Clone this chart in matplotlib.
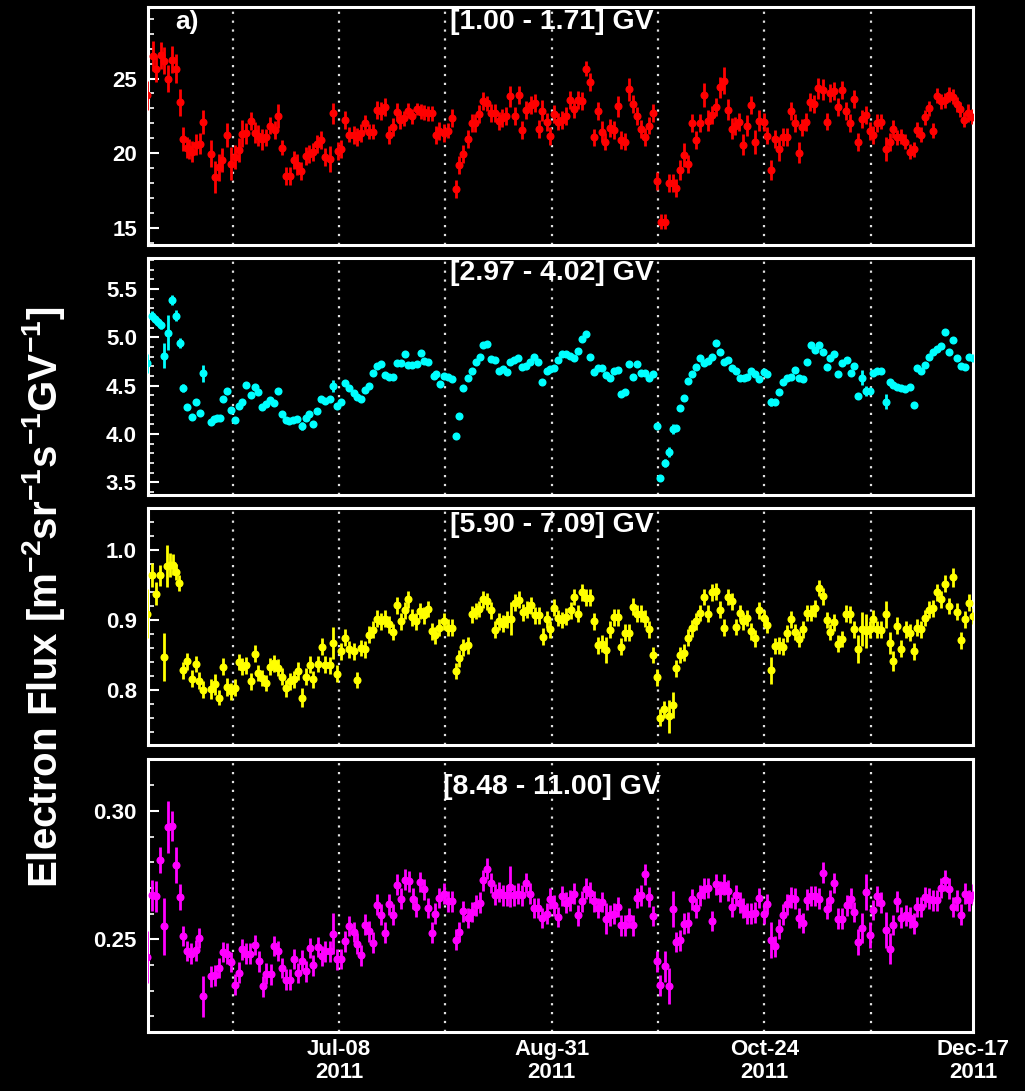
import numpy as np
import matplotlib
matplotlib.use('Agg')
import matplotlib.pyplot as plt
from matplotlib.ticker import MultipleLocator, FixedLocator
import pandas as pd

plt.rcParams['font.family'] = ['Liberation Sans', 'DejaVu Sans']
plt.rcParams['font.weight'] = 'bold'
plt.rcParams['mathtext.fontset'] = 'custom'
plt.rcParams['mathtext.rm'] = 'Liberation Sans:bold'
plt.rcParams['mathtext.bf'] = 'Liberation Sans:bold'
plt.rcParams['mathtext.default'] = 'bf'

# ---------------- data (x = day of year 2011) ----------------
days_1 = [140.3, 141.8, 142.5, 143.7, 144.5, 145.5, 146.6, 147.6, 148.6, 149.4,
          150.3, 151.0, 151.7, 152.7, 153.7, 154.5, 156.5, 157.6, 158.6, 159.4,
          160.6, 161.6, 162.6, 163.6, 164.4, 165.4, 166.6, 167.7, 168.5, 169.4,
          170.5, 171.6, 172.7, 173.6, 174.6, 175.5, 176.6, 177.5, 178.4, 179.4,
          180.5, 181.5, 182.5, 183.3, 184.4, 185.5, 186.7, 187.6, 188.8, 189.6,
          190.6, 191.6, 192.7, 193.7, 194.5, 195.7, 196.7, 197.6, 198.6, 199.6,
          200.6, 201.6, 202.7, 203.7, 204.5, 205.5, 206.6, 207.6, 208.8, 209.8,
          210.6,
          211.5, 212.6, 213.7, 214.5, 215.6, 216.6, 217.6, 218.7, 219.6, 220.6,
          221.7, 222.7, 223.6, 224.5, 225.6, 226.6, 227.6, 228.6, 229.6, 230.5,
          231.5, 232.5, 233.6, 234.6, 235.6, 236.6, 237.7, 238.7, 239.7, 240.6,
          241.7, 242.7, 243.7, 244.5, 245.6, 246.7, 247.7, 248.6, 249.6, 250.7,
          251.7, 252.7, 253.7, 254.7, 255.7, 256.6, 257.7, 258.8, 259.8, 260.6,
          261.7, 262.7, 263.7, 264.7, 265.7, 266.7, 267.8, 268.8, 269.8, 270.7,
          271.7, 272.8, 273.8, 274.7, 275.7, 276.7, 277.7, 278.7, 279.7, 280.6,
          281.7,
          282.7, 283.7, 284.7, 285.7, 286.8, 287.8, 288.8, 289.6, 290.6, 291.7,
          292.7, 293.7, 294.7, 295.7, 296.8, 297.8, 298.8, 299.8, 300.7, 301.8,
          302.8, 303.7, 304.8, 305.7, 306.7, 307.7, 308.7, 309.7, 310.7, 311.8,
          312.8, 313.8, 314.8, 315.8, 316.8, 317.8, 318.8, 319.8, 320.8, 321.8,
          322.8, 323.9, 324.7, 325.7, 326.7, 327.9, 328.8, 329.8, 330.8, 331.8,
          332.8, 333.9, 334.9, 335.9, 336.8, 337.8, 338.8, 339.8, 340.8, 341.8,
          342.9, 343.9, 344.9, 345.9, 346.8, 347.8, 348.8, 349.8]
flux_1 = [23.87, 26.50, 25.67, 26.56, 26.20, 25.00, 26.27, 25.67, 23.40, 20.93,
          20.37, 20.28, 20.10, 20.55, 20.64, 22.06, 19.95, 18.40, 19.05, 19.54,
          21.23, 19.30, 19.77, 20.22, 21.29, 21.34, 22.15, 21.38, 21.16, 20.93,
          21.05, 21.85, 21.56, 22.48, 20.37, 18.45, 18.45, 19.52, 19.21, 18.83,
          19.81, 19.93, 20.10, 20.64, 20.89, 19.72, 19.61, 22.68, 20.15, 20.28,
          22.24, 21.23, 21.23, 21.07, 21.34, 21.99, 21.45, 21.45, 22.91, 22.84,
          23.09, 21.23, 21.74, 22.73, 22.21, 22.35, 22.84, 22.48, 22.93, 22.79,
          22.75,
          22.68, 22.68, 21.23, 21.49, 21.38, 21.49, 22.35, 17.57, 19.21, 19.93,
          20.96, 22.03, 22.03, 22.62, 23.47, 23.33, 22.68, 22.68, 22.17, 22.35,
          22.50, 23.80, 22.50, 23.87, 21.58, 22.91, 23.20, 23.36, 21.63, 22.84,
          22.08, 21.16, 22.62, 22.12, 22.23, 22.50, 23.54, 22.97, 23.58, 23.51,
          25.67, 24.77, 21.05, 22.80, 21.45, 20.78, 21.67, 21.54, 23.13, 20.89,
          20.78, 24.27, 23.29, 22.50, 21.63, 21.11, 21.85, 22.68, 18.15, 15.40,
          15.40, 17.97, 17.97, 17.68, 18.87, 19.88, 19.25, 22.01, 20.89, 22.01,
          23.87,
          22.17, 22.57, 23.09, 24.41, 24.86, 22.91, 21.63, 21.79, 22.08, 20.55,
          21.85, 23.20, 20.73, 22.17, 22.08, 21.18, 18.87, 20.93, 20.28, 21.07,
          21.09, 22.80, 22.01, 20.04, 21.72, 22.08, 23.42, 23.31, 24.36, 24.25,
          22.12, 24.03, 24.18, 23.09, 24.25, 22.80, 22.01, 23.62, 20.73, 22.30,
          22.53, 21.49, 21.23, 22.01, 22.12, 20.26, 20.75, 21.63, 21.07, 21.09,
          20.78, 20.10, 20.26, 21.56, 21.23, 22.39, 23.00, 21.49, 23.85, 23.47,
          23.54, 23.92, 23.78, 23.29, 22.95, 22.23, 22.68, 22.44]
err_1 = [1.0, 1.0, 0.9, 0.9, 0.9, 0.9, 0.9, 1.0, 0.9, 0.8,
         0.7, 0.7, 0.7, 0.7, 0.7, 0.8, 0.9, 1.1, 0.9, 0.8,
         0.8, 1.1, 0.8, 0.8, 0.9, 0.7, 0.6, 0.7, 0.7, 0.7,
         0.6, 0.6, 0.6, 0.8, 0.5, 0.6, 0.6, 0.6, 0.7, 0.6,
         0.6, 0.6, 0.6, 0.6, 0.6, 0.6, 0.9, 0.7, 0.6, 0.6,
         0.6, 0.5, 0.6, 0.6, 0.6, 0.6, 0.5, 0.5, 0.6, 0.6,
         0.6, 0.6, 0.6, 0.6, 0.6, 0.5, 0.5, 0.5, 0.4, 0.5,
         0.5,
         0.5, 0.5, 0.6, 0.6, 0.6, 0.5, 0.6, 0.6, 0.6, 0.6,
         0.6, 0.6, 0.6, 0.6, 0.6, 0.5, 0.6, 0.6, 0.6, 0.6,
         0.6, 0.7, 0.6, 0.6, 0.6, 0.6, 0.6, 0.6, 0.6, 0.7,
         0.6, 0.6, 0.6, 0.6, 0.6, 0.6, 0.6, 0.6, 0.6, 0.6,
         0.5, 0.6, 0.6, 0.6, 0.7, 0.6, 0.6, 0.6, 0.7, 0.6,
         0.6, 0.8, 0.6, 0.6, 0.6, 0.6, 0.6, 0.6, 0.6, 0.5,
         0.5, 0.6, 0.6, 0.6, 0.7, 0.8, 0.6, 0.6, 0.6, 0.6,
         0.8,
         0.7, 0.6, 0.6, 0.7, 0.9, 0.7, 0.7, 0.6, 0.6, 0.7,
         0.7, 0.6, 0.8, 0.7, 0.6, 0.6, 0.7, 0.6, 0.8, 0.6,
         0.6, 0.6, 0.6, 0.7, 0.6, 0.6, 0.6, 0.6, 0.7, 0.7,
         0.6, 0.6, 0.6, 0.6, 0.6, 0.6, 0.6, 0.6, 0.6, 0.6,
         0.6, 0.6, 0.6, 0.6, 0.5, 0.8, 0.6, 0.6, 0.5, 0.5,
         0.5, 0.5, 0.5, 0.5, 0.5, 0.5, 0.5, 0.5, 0.5, 0.5,
         0.5, 0.5, 0.5, 0.5, 0.5, 0.5, 0.6, 0.5]

days_2 = [140.3, 141.6, 142.3, 143.0, 143.7, 144.5, 145.5, 146.6, 147.6, 148.6,
          149.4, 150.5, 151.6, 152.6, 153.6, 154.5, 156.4, 157.2, 158.1, 158.8,
          159.6, 160.6, 161.6, 162.6, 163.5, 164.3, 165.5, 166.6, 167.7, 168.5,
          169.4, 170.5, 171.5, 172.6, 173.6, 174.6, 175.5, 176.4, 177.4, 178.4,
          179.5, 180.5, 181.5, 182.5, 183.5, 184.5, 185.5, 186.6, 187.6, 188.6,
          189.6, 190.6, 191.6, 192.7, 193.7, 194.5, 195.5, 196.6, 197.6, 198.6,
          199.6, 200.6, 201.6, 202.7, 203.7, 204.7, 205.7, 206.6, 207.6, 208.8,
          209.8, 210.6,
          211.6, 213.0, 213.7, 214.7, 215.6, 216.6, 217.8, 218.7, 219.6, 220.6,
          221.7, 222.7, 223.7, 224.7, 225.6, 226.6, 227.6, 228.6, 229.6, 230.6,
          231.6, 232.5, 233.5, 234.5, 235.6, 236.6, 237.6, 238.6, 239.6, 240.6,
          241.7, 242.7, 243.7, 244.6, 245.6, 246.7, 247.7, 248.7, 249.7, 250.6,
          251.7, 252.7, 253.7, 254.7, 255.7, 256.7, 257.8, 258.8, 259.8, 260.6,
          261.7, 262.7, 263.7, 264.7, 265.7, 266.7, 267.8, 268.8, 269.8, 270.6,
          271.7, 272.7, 273.7, 274.7, 275.7, 276.7, 277.7, 278.7, 279.7, 280.6,
          281.7,
          282.7, 283.7, 284.7, 285.7, 286.8, 287.8, 288.8, 289.8, 290.8, 291.8,
          292.7, 293.7, 294.7, 295.7, 296.8, 297.8, 298.8, 299.8, 300.7, 301.8,
          302.8, 303.8, 304.8, 305.8, 306.8, 307.9, 308.9, 309.9, 310.9, 311.8,
          312.8, 313.8, 314.8, 315.8, 316.8, 317.9, 318.9, 319.8, 320.8, 321.8,
          322.8, 323.9, 324.7, 325.7, 326.7, 327.9, 328.8, 329.8, 330.8, 331.8,
          332.8, 333.9, 334.9, 335.9, 336.8, 337.8, 338.8, 339.8, 340.8, 341.8,
          342.9, 343.9, 344.9, 345.9, 346.9, 347.9, 348.9, 349.9]
flux_2 = [4.730, 5.225, 5.190, 5.156, 5.128, 4.810, 5.050, 5.387, 5.225, 4.939,
          4.473, 4.283, 4.180, 4.335, 4.214, 4.628, 4.128, 4.155, 4.169, 4.162,
          4.359, 4.445, 4.245, 4.145, 4.293, 4.335, 4.507, 4.404, 4.490, 4.438,
          4.280, 4.307, 4.352, 4.317, 4.449, 4.210, 4.142, 4.138, 4.145, 4.155,
          4.086, 4.162, 4.210, 4.100, 4.238, 4.362, 4.345, 4.359, 4.497, 4.290,
          4.335, 4.531, 4.473, 4.428, 4.386, 4.362, 4.455, 4.500, 4.628, 4.704,
          4.721, 4.611, 4.593, 4.593, 4.735, 4.731, 4.825, 4.714, 4.714, 4.721,
          4.842, 4.756,
          4.742, 4.604, 4.618, 4.514, 4.604, 4.590, 4.569, 3.979, 4.190, 4.473,
          4.583, 4.652, 4.749, 4.801, 4.921, 4.928, 4.776, 4.766, 4.652, 4.673,
          4.638, 4.742, 4.766, 4.783, 4.697, 4.707, 4.742, 4.801, 4.742, 4.542,
          4.656, 4.673, 4.680, 4.766, 4.825, 4.825, 4.807, 4.783, 4.859, 4.983,
          5.032, 4.801, 4.645, 4.680, 4.687, 4.611, 4.583, 4.656, 4.662, 4.411,
          4.438, 4.721, 4.593, 4.721, 4.628, 4.628, 4.576, 4.618, 4.086, 3.541,
          3.700, 3.817, 4.052, 4.066, 4.266, 4.369, 4.552, 4.621, 4.690, 4.783,
          4.731,
          4.756, 4.801, 4.939, 4.852, 4.742, 4.766, 4.680, 4.652, 4.576, 4.576,
          4.593, 4.652, 4.618, 4.569, 4.638, 4.621, 4.335, 4.335, 4.438, 4.535,
          4.583, 4.587, 4.662, 4.583, 4.569, 4.749, 4.921, 4.870, 4.921, 4.845,
          4.690, 4.783, 4.825, 4.618, 4.731, 4.766, 4.628, 4.707, 4.397, 4.583,
          4.445, 4.445, 4.628, 4.652, 4.652, 4.335, 4.542, 4.507, 4.490, 4.480,
          4.466, 4.490, 4.300, 4.680, 4.652, 4.714, 4.801, 4.845, 4.880, 4.914,
          5.052, 4.852, 4.973, 4.790, 4.707, 4.697, 4.801, 4.783]
err_2 = [0.10, 0.05, 0.04, 0.04, 0.04, 0.13, 0.18, 0.05, 0.06, 0.05,
         0.04, 0.03, 0.03, 0.03, 0.03, 0.09, 0.03, 0.03, 0.03, 0.03,
         0.03, 0.03, 0.03, 0.03, 0.03, 0.03, 0.03, 0.03, 0.03, 0.03,
         0.03, 0.03, 0.03, 0.03, 0.03, 0.03, 0.03, 0.03, 0.03, 0.03,
         0.04, 0.03, 0.03, 0.03, 0.03, 0.03, 0.03, 0.03, 0.06, 0.03,
         0.03, 0.03, 0.03, 0.03, 0.03, 0.03, 0.03, 0.03, 0.03, 0.03,
         0.03, 0.03, 0.03, 0.03, 0.03, 0.03, 0.03, 0.03, 0.03, 0.03,
         0.03, 0.03,
         0.03, 0.03, 0.03, 0.03, 0.03, 0.03, 0.03, 0.03, 0.03, 0.03,
         0.03, 0.03, 0.03, 0.03, 0.03, 0.03, 0.03, 0.03, 0.03, 0.03,
         0.03, 0.03, 0.03, 0.03, 0.03, 0.03, 0.03, 0.03, 0.03, 0.03,
         0.03, 0.03, 0.03, 0.03, 0.03, 0.03, 0.03, 0.03, 0.03, 0.03,
         0.03, 0.03, 0.03, 0.03, 0.03, 0.03, 0.03, 0.03, 0.03, 0.03,
         0.03, 0.03, 0.03, 0.03, 0.03, 0.03, 0.03, 0.03, 0.03, 0.03,
         0.04, 0.05, 0.05, 0.03, 0.03, 0.03, 0.03, 0.03, 0.03, 0.03,
         0.03,
         0.03, 0.03, 0.03, 0.03, 0.03, 0.03, 0.03, 0.03, 0.03, 0.03,
         0.03, 0.03, 0.03, 0.03, 0.03, 0.03, 0.04, 0.03, 0.03, 0.03,
         0.03, 0.03, 0.03, 0.03, 0.03, 0.03, 0.03, 0.03, 0.03, 0.03,
         0.03, 0.03, 0.03, 0.03, 0.03, 0.03, 0.03, 0.03, 0.03, 0.08,
         0.05, 0.03, 0.03, 0.03, 0.03, 0.08, 0.03, 0.03, 0.03, 0.03,
         0.03, 0.03, 0.03, 0.03, 0.03, 0.03, 0.03, 0.03, 0.03, 0.03,
         0.03, 0.03, 0.03, 0.03, 0.03, 0.03, 0.03, 0.03]

days_3 = [140.3, 141.6, 142.5, 143.5, 144.5, 145.4, 146.2, 146.9, 147.6, 148.4,
          149.4, 150.3, 151.6, 152.6, 153.5, 154.5, 156.4, 157.4, 158.6, 159.6,
          160.6, 161.5, 162.6, 163.6, 164.4, 165.5, 166.6, 167.6, 168.5, 169.4,
          170.5, 171.5, 172.5, 173.5, 174.5, 175.5, 176.6, 177.6, 178.6, 179.6,
          180.6, 181.6, 182.5, 183.6, 184.6, 185.5, 186.6, 187.6, 188.6, 189.6,
          190.6, 191.6, 192.7, 193.7, 194.5, 195.7, 196.6, 197.6, 198.6, 199.6,
          200.6, 201.6, 202.7, 203.7, 204.7, 205.7, 206.6, 207.6, 208.6, 209.6,
          210.6,
          211.5, 212.7, 213.5, 214.5, 215.6, 216.7, 217.8, 218.7, 219.6, 220.6,
          221.7, 222.7, 223.7, 224.5, 225.6, 226.6, 227.6, 228.6, 229.6, 230.6,
          231.7, 232.7, 233.7, 234.7, 235.7, 236.7, 237.8, 238.8, 239.8, 240.8,
          241.7, 242.7, 243.7, 244.7, 245.7, 246.7, 247.8, 248.8, 249.8, 250.8,
          251.7, 252.7, 253.7, 254.7, 255.7, 256.7, 257.8, 258.8, 259.8, 260.7,
          261.7, 262.7, 263.7, 264.7, 265.7, 266.7, 267.8, 268.8, 269.8, 270.6,
          271.6, 272.7, 273.7, 274.7, 275.7, 276.7, 277.7, 278.7, 279.7, 280.6,
          281.7,
          282.7, 283.7, 284.7, 285.7, 286.8, 287.8, 288.8, 289.8, 290.8, 291.7,
          292.7, 293.7, 294.7, 295.7, 296.8, 297.8, 298.8, 299.8, 300.7, 301.8,
          302.8, 303.8, 304.8, 305.7, 306.8, 307.8, 308.8, 309.8, 310.8, 311.8,
          312.8, 313.8, 314.8, 315.8, 316.8, 317.8, 318.8, 319.8, 320.8, 321.8,
          322.8, 323.9, 324.7, 325.7, 326.7, 327.9, 328.8, 329.8, 330.8, 331.8,
          332.9, 333.9, 334.9, 335.9, 336.8, 337.8, 338.8, 339.8, 340.8, 341.8,
          342.9, 343.9, 344.9, 345.9, 346.9, 347.9, 348.9, 349.9]
flux_3 = [0.909, 0.965, 0.938, 0.964, 0.847, 0.978, 0.979, 0.979, 0.969, 0.953,
          0.828, 0.841, 0.816, 0.837, 0.813, 0.800, 0.801, 0.808, 0.789, 0.833,
          0.804, 0.798, 0.803, 0.840, 0.833, 0.835, 0.812, 0.852, 0.824, 0.817,
          0.810, 0.833, 0.838, 0.832, 0.819, 0.802, 0.812, 0.815, 0.827, 0.789,
          0.819, 0.836, 0.815, 0.837, 0.862, 0.836, 0.835, 0.867, 0.823, 0.855,
          0.875, 0.858, 0.855, 0.814, 0.860, 0.858, 0.879, 0.886, 0.902, 0.898,
          0.902, 0.894, 0.883, 0.921, 0.898, 0.914, 0.930, 0.904, 0.898, 0.913,
          0.907,
          0.916, 0.884, 0.878, 0.889, 0.898, 0.889, 0.889, 0.827, 0.845, 0.861,
          0.864, 0.908, 0.913, 0.916, 0.930, 0.927, 0.914, 0.886, 0.898, 0.895,
          0.901, 0.902, 0.925, 0.929, 0.911, 0.915, 0.921, 0.907, 0.907, 0.876,
          0.901, 0.887, 0.918, 0.903, 0.900, 0.905, 0.914, 0.933, 0.909, 0.940,
          0.932, 0.932, 0.898, 0.864, 0.866, 0.857, 0.886, 0.904, 0.904, 0.862,
          0.882, 0.882, 0.919, 0.909, 0.909, 0.902, 0.887, 0.850, 0.818, 0.760,
          0.772, 0.762, 0.778, 0.831, 0.850, 0.853, 0.875, 0.888, 0.898, 0.910,
          0.933,
          0.909, 0.940, 0.941, 0.915, 0.889, 0.933, 0.927, 0.890, 0.910, 0.898,
          0.903, 0.884, 0.874, 0.914, 0.903, 0.893, 0.828, 0.863, 0.864, 0.862,
          0.881, 0.901, 0.883, 0.873, 0.887, 0.910, 0.910, 0.917, 0.946, 0.934,
          0.900, 0.883, 0.897, 0.866, 0.873, 0.909, 0.908, 0.887, 0.859, 0.887,
          0.884, 0.887, 0.902, 0.887, 0.886, 0.908, 0.867, 0.841, 0.892, 0.859,
          0.887, 0.882, 0.855, 0.889, 0.887, 0.903, 0.915, 0.917, 0.940, 0.930,
          0.952, 0.920, 0.961, 0.912, 0.871, 0.901, 0.925, 0.906]
err_3 = [0.035, 0.017, 0.017, 0.015, 0.034, 0.030, 0.017, 0.015, 0.012, 0.012,
         0.012, 0.012, 0.012, 0.012, 0.012, 0.012, 0.014, 0.015, 0.011, 0.012,
         0.013, 0.012, 0.012, 0.012, 0.012, 0.012, 0.012, 0.012, 0.012, 0.012,
         0.012, 0.012, 0.012, 0.012, 0.012, 0.012, 0.012, 0.012, 0.013, 0.013,
         0.012, 0.012, 0.012, 0.012, 0.012, 0.012, 0.012, 0.023, 0.012, 0.012,
         0.012, 0.012, 0.012, 0.012, 0.012, 0.012, 0.012, 0.012, 0.012, 0.012,
         0.012, 0.012, 0.012, 0.012, 0.012, 0.012, 0.012, 0.012, 0.012, 0.012,
         0.012,
         0.012, 0.012, 0.012, 0.012, 0.012, 0.012, 0.012, 0.012, 0.012, 0.012,
         0.012, 0.012, 0.012, 0.012, 0.012, 0.012, 0.012, 0.012, 0.012, 0.012,
         0.012, 0.024, 0.012, 0.012, 0.012, 0.012, 0.012, 0.012, 0.012, 0.012,
         0.012, 0.012, 0.012, 0.012, 0.012, 0.012, 0.012, 0.012, 0.012, 0.012,
         0.012, 0.012, 0.012, 0.012, 0.012, 0.019, 0.012, 0.012, 0.012, 0.012,
         0.012, 0.012, 0.012, 0.012, 0.012, 0.012, 0.012, 0.012, 0.012, 0.012,
         0.012, 0.024, 0.019, 0.012, 0.012, 0.012, 0.012, 0.012, 0.012, 0.012,
         0.012,
         0.012, 0.012, 0.012, 0.012, 0.012, 0.012, 0.012, 0.012, 0.012, 0.012,
         0.012, 0.012, 0.012, 0.012, 0.012, 0.012, 0.019, 0.012, 0.012, 0.012,
         0.012, 0.012, 0.012, 0.012, 0.012, 0.012, 0.012, 0.012, 0.012, 0.012,
         0.012, 0.012, 0.012, 0.012, 0.012, 0.012, 0.012, 0.012, 0.020, 0.024,
         0.024, 0.012, 0.012, 0.012, 0.012, 0.020, 0.016, 0.014, 0.012, 0.012,
         0.012, 0.012, 0.012, 0.012, 0.012, 0.012, 0.012, 0.012, 0.012, 0.012,
         0.012, 0.012, 0.014, 0.012, 0.012, 0.012, 0.012, 0.012]

days_4 = [140.3, 141.6, 142.5, 143.5, 144.5, 145.5, 146.6, 147.6, 148.6, 149.4,
          150.5, 151.5, 152.6, 153.5, 154.5, 156.4, 157.4, 158.6, 159.6, 160.6,
          161.5, 162.6, 163.6, 164.4, 165.4, 166.4, 167.6, 168.6, 169.6, 170.5,
          171.7, 172.6, 173.6, 174.6, 175.5, 176.6, 177.6, 178.6, 179.6, 180.6,
          181.6, 182.5, 183.7, 184.6, 185.5, 186.6, 187.6, 188.6, 189.6, 190.6,
          191.6, 192.7, 193.7, 194.5, 195.7, 196.6, 197.6, 198.6, 199.6, 200.6,
          201.6, 202.7, 203.7, 204.7, 205.7, 206.7, 207.7, 208.6, 209.6, 210.5,
          211.7, 212.7, 213.5, 214.5, 215.6, 216.6, 217.6, 218.7, 219.6, 220.6,
          221.7, 222.7, 223.7, 224.7, 225.6, 226.6, 227.6, 228.6, 229.6, 230.6,
          231.6, 232.5, 233.5, 234.5, 235.6, 236.6, 237.6, 238.6, 239.6, 240.6,
          241.7, 242.7, 243.7, 244.7, 245.6, 246.7, 247.7, 248.7, 249.7, 250.7,
          251.7, 252.7, 253.7, 254.7, 255.7, 256.7, 257.8, 258.8, 259.8, 260.6,
          261.7, 262.7, 263.7, 264.7, 265.7, 266.7, 267.8, 268.8, 269.8, 270.6,
          271.7, 272.7, 273.7, 274.7, 275.7, 276.7, 277.7, 278.7, 279.7, 280.6,
          281.7,
          282.7, 283.7, 284.7, 285.7, 286.8, 287.8, 288.8, 289.8, 290.8, 291.7,
          292.7, 293.7, 294.7, 295.7, 296.8, 297.8, 298.8, 299.8, 300.7, 301.8,
          302.8, 303.8, 304.8, 305.8, 306.8, 307.9, 308.9, 309.9, 310.9, 311.8,
          312.8, 313.8, 314.8, 315.8, 316.8, 317.9, 318.9, 319.8, 320.8, 321.8,
          322.9, 323.9, 324.7, 325.7, 326.7, 327.9, 328.8, 329.8, 330.8, 331.8,
          332.9, 333.9, 334.9, 335.9, 336.8, 337.8, 338.8, 339.8, 340.8, 341.8,
          342.9, 343.9, 344.9, 345.9, 346.9, 347.9, 348.9, 349.9]
flux_4 = [0.2431, 0.2671, 0.2667, 0.2808, 0.2550, 0.2938, 0.2941, 0.2791, 0.2664, 0.2512,
          0.2454, 0.2444, 0.2457, 0.2505, 0.2278, 0.2356, 0.2360, 0.2388, 0.2450, 0.2444,
          0.2412, 0.2323, 0.2370, 0.2461, 0.2444, 0.2444, 0.2477, 0.2414, 0.2317, 0.2366,
          0.2363, 0.2474, 0.2454, 0.2388, 0.2343, 0.2343, 0.2424, 0.2369, 0.2417, 0.2375,
          0.2466, 0.2399, 0.2470, 0.2435, 0.2453, 0.2453, 0.2521, 0.2422, 0.2424, 0.2492,
          0.2552, 0.2528, 0.2483, 0.2437, 0.2557, 0.2531, 0.2487, 0.2635, 0.2596, 0.2526,
          0.2636, 0.2596, 0.2713, 0.2658, 0.2732, 0.2726, 0.2658, 0.2626, 0.2723, 0.2695,
          0.2622, 0.2526, 0.2600, 0.2661, 0.2678, 0.2648, 0.2648, 0.2499, 0.2528, 0.2609,
          0.2583, 0.2606, 0.2632, 0.2643, 0.2730, 0.2775, 0.2719, 0.2674, 0.2684, 0.2671,
          0.2671, 0.2704, 0.2671, 0.2678, 0.2671, 0.2719, 0.2678, 0.2622, 0.2622, 0.2583,
          0.2600, 0.2658, 0.2632, 0.2587, 0.2669, 0.2643, 0.2652, 0.2678, 0.2593, 0.2648,
          0.2697, 0.2682, 0.2648, 0.2622, 0.2645, 0.2580, 0.2593, 0.2600, 0.2625, 0.2554,
          0.2554, 0.2583, 0.2554, 0.2661, 0.2671, 0.2753, 0.2665, 0.2591, 0.2414, 0.2321,
          0.2395, 0.2317, 0.2617, 0.2490, 0.2496, 0.2561, 0.2565, 0.2656, 0.2622, 0.2671,
          0.2697,
          0.2700, 0.2571, 0.2714, 0.2687, 0.2713, 0.2690, 0.2625, 0.2671, 0.2643, 0.2622,
          0.2600, 0.2600, 0.2604, 0.2661, 0.2600, 0.2638, 0.2496, 0.2473, 0.2541, 0.2596,
          0.2636, 0.2662, 0.2658, 0.2583, 0.2564, 0.2654, 0.2669, 0.2669, 0.2658, 0.2760,
          0.2619, 0.2652, 0.2719, 0.2580, 0.2580, 0.2632, 0.2658, 0.2606, 0.2490, 0.2544,
          0.2684, 0.2518, 0.2615, 0.2668, 0.2643, 0.2535, 0.2464, 0.2555, 0.2648, 0.2584,
          0.2593, 0.2584, 0.2561, 0.2626, 0.2626, 0.2665, 0.2658, 0.2652, 0.2652, 0.2700,
          0.2730, 0.2697, 0.2626, 0.2652, 0.2596, 0.2678, 0.2652, 0.2674]
err_4 = [0.010, 0.006, 0.006, 0.005, 0.011, 0.010, 0.006, 0.007, 0.005, 0.004,
         0.004, 0.004, 0.004, 0.004, 0.008, 0.004, 0.004, 0.004, 0.004, 0.004,
         0.004, 0.004, 0.004, 0.004, 0.004, 0.004, 0.004, 0.004, 0.004, 0.004,
         0.004, 0.004, 0.004, 0.004, 0.004, 0.004, 0.004, 0.004, 0.004, 0.004,
         0.004, 0.004, 0.004, 0.004, 0.004, 0.004, 0.008, 0.004, 0.004, 0.004,
         0.004, 0.004, 0.004, 0.004, 0.004, 0.004, 0.004, 0.004, 0.004, 0.004,
         0.004, 0.004, 0.004, 0.004, 0.004, 0.004, 0.004, 0.004, 0.004, 0.004,
         0.004, 0.004, 0.004, 0.004, 0.004, 0.004, 0.004, 0.004, 0.004, 0.004,
         0.004, 0.004, 0.004, 0.004, 0.004, 0.004, 0.004, 0.004, 0.004, 0.004,
         0.004, 0.008, 0.004, 0.004, 0.004, 0.004, 0.004, 0.004, 0.004, 0.004,
         0.004, 0.004, 0.004, 0.004, 0.004, 0.004, 0.004, 0.004, 0.004, 0.004,
         0.004, 0.004, 0.004, 0.004, 0.004, 0.006, 0.004, 0.004, 0.004, 0.004,
         0.004, 0.004, 0.004, 0.004, 0.004, 0.004, 0.004, 0.004, 0.004, 0.004,
         0.006, 0.007, 0.007, 0.004, 0.004, 0.004, 0.004, 0.004, 0.004, 0.004,
         0.004,
         0.004, 0.004, 0.004, 0.004, 0.004, 0.004, 0.004, 0.004, 0.004, 0.004,
         0.004, 0.004, 0.004, 0.004, 0.004, 0.004, 0.007, 0.004, 0.004, 0.004,
         0.004, 0.004, 0.004, 0.004, 0.004, 0.004, 0.004, 0.004, 0.004, 0.004,
         0.004, 0.004, 0.004, 0.004, 0.004, 0.004, 0.004, 0.004, 0.005, 0.006,
         0.007, 0.005, 0.004, 0.004, 0.004, 0.007, 0.006, 0.004, 0.004, 0.004,
         0.004, 0.004, 0.004, 0.004, 0.004, 0.004, 0.004, 0.004, 0.004, 0.004,
         0.004, 0.004, 0.004, 0.004, 0.004, 0.004, 0.004, 0.004]

titles = ['[1.00 - 1.71] GV', '[2.97 - 4.02] GV', '[5.90 - 7.09] GV', '[8.48 - 11.00] GV']
colors = ['#ff0000', '#00ffff', '#ffff00', '#ff00ff']
ylims = [(13.84, 29.8), (3.37, 5.824), (0.721, 1.061), (0.2139, 0.3201)]
major_ticks = [[15, 20, 25], [3.5, 4.0, 4.5, 5.0, 5.5], [0.8, 0.9, 1.0], [0.25, 0.30]]
major_labels = [['15', '20', '25'], ['3.5', '4.0', '4.5', '5.0', '5.5'],
                ['0.8', '0.9', '1.0'], ['0.25', '0.30']]
minor_steps = [1.0, 0.1, 0.02, 0.01]
rotation_dates = ['2011-06-11', '2011-07-08', '2011-08-04', '2011-08-31',
                  '2011-09-27', '2011-10-24', '2011-11-20']
tick_dates = ['2011-07-08', '2011-08-31', '2011-10-24', '2011-12-17']
tick_labels = ['Jul-08\n2011', 'Aug-31\n2011', 'Oct-24\n2011', 'Dec-17\n2011']
start_date, end_date = '2011-05-20', '2011-12-16'

series = [(days_1, flux_1, err_1), (days_2, flux_2, err_2),
          (days_3, flux_3, err_3), (days_4, flux_4, err_4)]
for k, (d, f, e) in enumerate(series):
    assert len(d) == len(f) == len(e), (k, len(d), len(f), len(e))


def doy(s):
    return pd.Timestamp(s).dayofyear

# ---------------- figure ----------------
fig = plt.figure(figsize=(10.25, 10.91), dpi=100, facecolor='black')
W, H = 1025.0, 1091.0
left, right = 148 / W, 973 / W
boxes = [(7, 245), (257.7, 495), (507.7, 745), (759.3, 1032)]
title_y = [0.935, 0.935, 0.928, 0.900]

xmin = doy(start_date) + 0.5
xmax = doy(end_date)

for i, (top, bot) in enumerate(boxes):
    ax = fig.add_axes([left, 1 - bot / H, right - left, (bot - top) / H])
    ax.set_facecolor('black')
    d, f, e = series[i]
    ax.errorbar(d, f, yerr=e, fmt='o', color=colors[i], ms=5.8, mew=0,
                elinewidth=2.0, capsize=0, zorder=3)
    for rd in rotation_dates:
        ax.axvline(doy(rd), color='#e0e0e0', lw=1.6, ls=(0, (1, 3)), zorder=1)
    ax.set_xlim(xmin, xmax)
    ax.set_ylim(*ylims[i])
    ax.yaxis.set_major_locator(FixedLocator(major_ticks[i]))
    ax.set_yticklabels(major_labels[i])
    ax.yaxis.set_minor_locator(MultipleLocator(minor_steps[i]))
    ax.tick_params(axis='y', which='major', direction='in', length=8, width=1.5,
                   color='white', labelcolor='white', labelsize=16, pad=8)
    ax.tick_params(axis='y', which='minor', direction='in', length=4, width=1.2,
                   color='white')
    # the last label sits on the right frame
    ax.set_xticks([min(doy(t), xmax) for t in tick_dates])
    if i == 3:
        ax.set_xticklabels(tick_labels, fontsize=16, fontweight='bold', color='white',
                           linespacing=1.15)
        ax.tick_params(axis='x', length=0, pad=5)
    else:
        ax.set_xticklabels([])
        ax.tick_params(axis='x', length=0)
    for lab in ax.get_yticklabels():
        lab.set_fontweight('bold')
    for sp in ax.spines.values():
        sp.set_color('white')
        sp.set_linewidth(2.2)
    ax.text(0.49, title_y[i], titles[i], transform=ax.transAxes, ha='center',
            va='center', color='white', fontsize=20.5, fontweight='bold')
    if i == 0:
        ax.text(0.047, title_y[i], 'a)', transform=ax.transAxes, ha='center',
                va='center', color='white', fontsize=19, fontweight='bold')

fig.text(44 / W, 1 - 597 / H,
         r'Electron Flux [m$^{-2}$sr$^{-1}$s$^{-1}$GV$^{-1}$]',
         rotation=90, ha='center', va='center', color='white',
         fontsize=29, fontweight='bold')

fig.savefig('out.png', dpi=100, facecolor='black')
